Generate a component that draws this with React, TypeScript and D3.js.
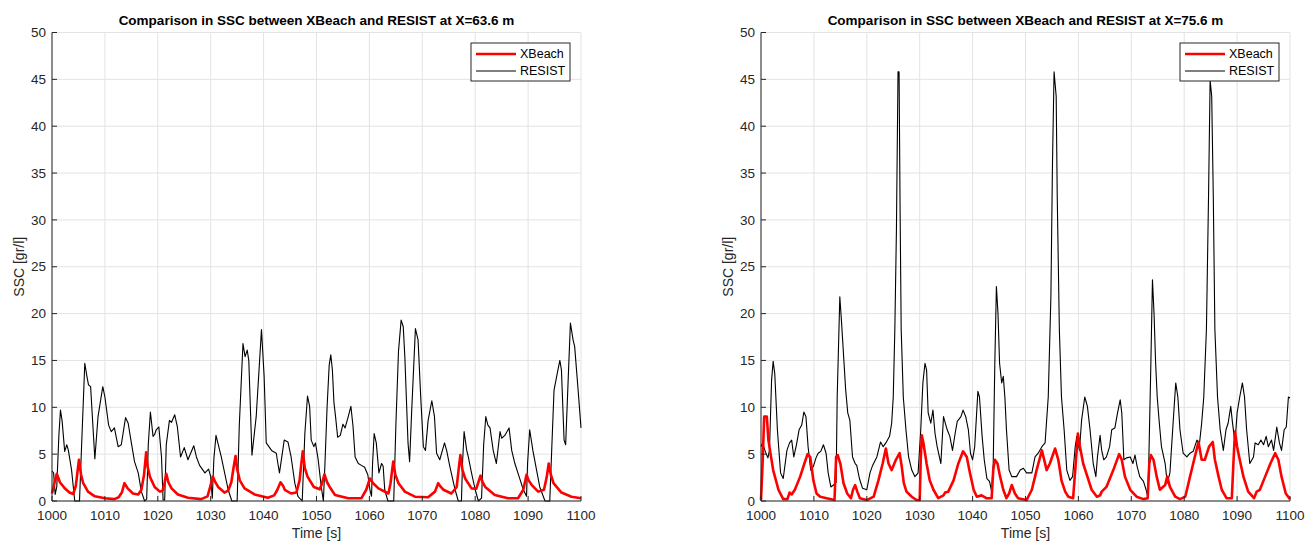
import React from "react";
import * as d3 from "d3";

// ---------- data (time [s], SSC [gr/l]) ----------
const xTicks = [1000, 1010, 1020, 1030, 1040, 1050, 1060, 1070, 1080, 1090, 1100];
const yTicks = [0, 5, 10, 15, 20, 25, 30, 35, 40, 45, 50];
const seriesNames = ["XBeach", "RESIST"];
const titles = [
  "Comparison in SSC between XBeach and RESIST at X=63.6 m",
  "Comparison in SSC between XBeach and RESIST at X=75.6 m",
];

const resist63: [number, number][] = [
  [1000,3.2],[1000.3,3.0],[1000.6,0.7],[1000.9,1.5],[1001.3,7.0],[1001.6,9.7],[1001.9,8.6],[1002.4,5.3],[1002.8,6.0],[1003.1,5.4],[1003.7,3.3],[1004.3,0],[1005.2,0],[1005.6,6.0],[1006.2,14.7],[1006.6,13.3],[1006.9,12.4],[1007.3,12.2],[1008.1,4.5],[1008.7,9.0],[1009.6,12.2],[1010.0,11.1],[1010.7,8.1],[1011.2,7.4],[1011.8,7.8],[1012.5,5.8],[1013.1,6.0],[1013.9,8.9],[1014.4,8.3],[1015.0,6.2],[1015.6,4.2],[1016.3,3.0],[1016.9,1.0],[1017.5,0],[1017.9,0.2],[1018.2,6.0],[1018.6,9.5],[1019.1,6.9],[1019.4,7.1],[1019.7,7.6],[1020.2,7.9],[1020.7,4.7],[1021.0,0.1],[1021.3,0.1],[1021.6,6.0],[1022.2,8.6],[1022.6,8.4],[1023.2,9.2],[1023.7,7.9],[1024.3,4.7],[1025.0,5.7],[1025.7,4.4],[1026.8,5.9],[1027.3,4.7],[1027.9,3.8],[1028.9,3.0],[1029.6,3.4],[1030.0,2.6],[1030.3,0.3],[1030.6,4.5],[1031.0,7.0],[1032.0,4.7],[1033.3,1.2],[1034.0,0],[1035.0,0],[1035.4,8],[1036.1,16.8],[1036.5,15.4],[1036.9,16.1],[1037.2,15.0],[1037.8,4.9],[1038.6,9.0],[1039.6,18.3],[1040.1,13.3],[1040.5,6.2],[1041.5,5.4],[1042.4,5.1],[1042.7,4.0],[1043.0,3.0],[1043.9,6.5],[1044.6,6.3],[1045.2,4.7],[1045.9,1.9],[1046.5,0.5],[1047.3,0],[1047.8,7.2],[1048.3,11.2],[1048.7,10.1],[1049.0,6.5],[1049.5,5.8],[1049.8,6.2],[1050.3,4.5],[1050.9,1.5],[1051.3,0],[1051.6,4],[1052.0,10],[1052.4,14.5],[1052.7,15.6],[1053.0,14.0],[1053.3,10.5],[1053.6,9.0],[1054.0,6.8],[1054.5,7.0],[1055.0,8.2],[1055.4,7.8],[1056.0,9.0],[1056.5,10.1],[1056.9,8.0],[1057.3,4.7],[1057.9,4.0],[1058.5,3.8],[1059.1,3.6],[1059.7,2.8],[1060.1,1.2],[1060.4,0.5],[1060.6,4.0],[1060.9,7.2],[1061.3,6.2],[1061.8,3.0],[1062.3,4.0],[1062.6,3.7],[1062.9,1.2],[1063.5,0],[1064.6,0],[1065.0,8],[1065.5,16],[1066.0,19.3],[1066.4,18.6],[1066.7,15.4],[1067.3,6.2],[1067.6,4.2],[1068.0,9.7],[1068.7,18.4],[1069.2,17.2],[1069.7,11.1],[1070.2,5.8],[1070.6,5.4],[1071.1,8.6],[1071.8,10.7],[1072.3,9.0],[1072.7,5.1],[1073.3,4.4],[1074.2,6.2],[1074.6,5.4],[1075.2,3.7],[1076.2,1.2],[1076.8,0],[1077.4,0],[1077.6,4],[1077.9,7.4],[1078.4,5.4],[1078.7,4.7],[1079.3,3.0],[1080.0,1.2],[1080.6,0],[1081.2,0.3],[1081.6,6],[1082.0,9.0],[1082.4,8.1],[1082.8,7.8],[1083.4,5.4],[1084.0,4.0],[1084.7,7.4],[1085.0,6.7],[1085.6,7.0],[1086.4,7.8],[1086.9,5.4],[1087.5,4.0],[1088.3,2.6],[1089.1,1.2],[1089.7,0.5],[1089.9,4],[1090.3,7.6],[1090.9,5.4],[1091.6,3.3],[1092.2,1.5],[1093.2,0],[1094.1,0],[1094.5,6],[1094.9,11.8],[1095.4,13.3],[1096.0,15.0],[1096.3,14.0],[1096.8,6.5],[1097.1,6.0],[1097.6,13.3],[1098.0,19.0],[1098.5,17.2],[1098.8,16.5],[1099.5,11.5],[1100,7.8],
];

const xbeach63: [number, number][] = [
  [1000,0.8],[1000.5,2.0],[1000.9,2.9],[1001.5,2.0],[1002.5,1.3],[1003.3,0.9],[1004.0,0.75],[1004.5,1.6],[1004.9,3.5],[1005.1,4.4],[1005.5,2.8],[1005.9,1.9],[1006.8,1.0],[1008.1,0.5],[1010.0,0.3],[1011.8,0.2],[1012.6,0.4],[1013.2,0.9],[1013.7,1.9],[1014.3,1.35],[1015.3,0.8],[1016.3,0.7],[1016.9,1.2],[1017.4,2.8],[1017.8,5.2],[1018.1,3.6],[1018.5,2.6],[1019.4,1.5],[1020.4,1.0],[1020.9,1.1],[1021.3,2.0],[1021.6,2.9],[1022.0,2.0],[1022.6,1.35],[1023.8,0.7],[1025.7,0.35],[1028.2,0.2],[1029.4,0.5],[1029.9,1.5],[1030.4,2.6],[1030.8,2.1],[1031.4,1.5],[1032.6,0.9],[1033.3,1.1],[1033.9,2.0],[1034.3,3.5],[1034.7,4.8],[1035.0,3.4],[1035.5,2.2],[1036.4,1.35],[1038.3,0.7],[1040.8,0.35],[1042.0,0.6],[1042.6,1.2],[1043.2,2.0],[1043.7,1.6],[1044.0,1.2],[1045.2,0.8],[1046.2,0.9],[1046.8,2.2],[1047.1,3.8],[1047.4,5.3],[1047.8,3.5],[1048.3,2.6],[1049.5,1.5],[1050.6,1.25],[1051.0,1.8],[1051.5,2.85],[1052.0,2.0],[1052.5,1.5],[1053.5,0.65],[1056.0,0.3],[1058.5,0.3],[1059.4,1.2],[1060.1,2.4],[1060.7,1.9],[1061.7,1.35],[1063.6,0.8],[1064.0,1.9],[1064.5,4.2],[1064.9,2.8],[1065.5,1.9],[1066.7,1.0],[1068.6,0.46],[1071.1,0.4],[1072.4,1.0],[1073.0,1.9],[1073.5,1.5],[1074.0,1.2],[1075.5,0.8],[1076.5,1.5],[1076.9,3.5],[1077.2,4.9],[1077.6,3.3],[1078.1,2.4],[1079.3,1.35],[1080.2,1.3],[1080.6,2.0],[1081.0,2.7],[1081.4,2.0],[1081.9,1.5],[1083.7,0.65],[1086.2,0.3],[1088.1,0.3],[1089.1,1.2],[1089.7,2.8],[1090.1,2.2],[1090.7,1.7],[1091.9,1.0],[1093.0,1.2],[1093.5,2.5],[1093.9,4.0],[1094.3,2.8],[1094.8,1.9],[1096.3,0.9],[1098.2,0.46],[1100,0.3],
];

const resist75: [number, number][] = [
  [1000,5.8],[1000.3,6.2],[1000.8,5.3],[1001.3,4.6],[1001.6,5.4],[1002.0,12.9],[1002.3,14.9],[1002.6,13.6],[1003.1,7.6],[1003.7,3.0],[1004.2,2.4],[1004.9,5.4],[1005.4,6.2],[1005.8,6.5],[1006.2,4.7],[1006.7,6.0],[1007.2,7.6],[1007.7,8.1],[1008.1,9.5],[1008.5,9.0],[1008.9,5.8],[1009.4,3.3],[1009.9,3.7],[1010.4,4.6],[1010.8,5.1],[1011.3,5.3],[1011.8,6.0],[1012.3,5.1],[1012.7,3.0],[1013.2,1.5],[1013.7,1.7],[1014.2,2.0],[1014.4,11.0],[1014.9,21.8],[1015.2,19.3],[1015.7,14.7],[1016.0,11.9],[1016.4,9.4],[1016.8,8.6],[1017.3,4.7],[1017.8,4.0],[1018.1,3.8],[1018.6,2.4],[1019.2,1.35],[1020.0,1.2],[1020.6,3.0],[1021.1,3.8],[1021.9,4.7],[1022.6,6.3],[1023.1,5.8],[1023.6,6.2],[1024.3,6.9],[1024.7,8.3],[1025.0,11.1],[1025.3,18.3],[1025.6,28.9],[1025.9,45.8],[1026.1,45.8],[1026.3,30.7],[1026.5,18.3],[1026.9,11.1],[1027.4,7.6],[1027.9,4.7],[1028.5,3.3],[1029.1,2.6],[1029.7,3.0],[1030.2,7.6],[1030.6,12.6],[1031.0,14.7],[1031.3,14.0],[1031.6,9.4],[1032.1,8.3],[1032.5,9.7],[1032.9,7.2],[1033.3,5.8],[1034.0,4.0],[1034.5,9.0],[1034.8,8.4],[1035.2,7.6],[1035.7,6.9],[1036.2,5.4],[1036.7,7.2],[1037.1,8.5],[1037.8,9.0],[1038.2,9.7],[1038.7,9.0],[1039.2,7.6],[1039.6,5.1],[1040.0,4.4],[1040.4,5.8],[1041.0,11.7],[1041.3,11.1],[1041.8,6.9],[1042.2,4.4],[1042.7,2.4],[1043.2,2.1],[1043.6,1.0],[1043.9,4.0],[1044.2,14.7],[1044.5,22.9],[1044.8,20.0],[1045.1,14.7],[1045.5,12.6],[1045.8,13.3],[1046.1,11.1],[1046.4,7.6],[1046.9,3.3],[1047.4,2.6],[1048.3,2.6],[1049.0,3.3],[1049.6,3.5],[1050.2,3.0],[1051.2,3.0],[1051.8,4.7],[1052.4,5.1],[1053.1,5.8],[1053.7,6.2],[1054.3,11.1],[1054.8,21.8],[1055.1,36],[1055.4,45.8],[1055.8,43.2],[1056.0,32.5],[1056.4,18.3],[1056.8,11.1],[1057.3,7.6],[1057.8,3.3],[1058.4,2.2],[1058.9,2.6],[1059.4,5.8],[1059.7,6.9],[1060.2,5.4],[1060.6,8.6],[1061.2,11.1],[1061.7,10.1],[1062.2,7.6],[1062.8,4.0],[1063.3,2.6],[1063.6,4.7],[1064.1,7.0],[1064.4,5.4],[1064.8,4.4],[1065.3,4.7],[1065.9,5.8],[1066.3,7.6],[1066.9,7.8],[1067.4,9.4],[1067.9,10.8],[1068.2,9.4],[1068.6,4.4],[1069.1,4.6],[1069.8,4.7],[1070.3,4.0],[1070.7,4.9],[1071.1,3.7],[1071.6,2.6],[1072.3,2.1],[1072.8,1.2],[1073.1,0.5],[1073.3,4.0],[1073.7,14.7],[1074.0,23.6],[1074.3,20.0],[1074.6,14.7],[1074.9,11.1],[1075.3,8.3],[1075.7,5.8],[1076.4,4.0],[1076.8,1.9],[1077.3,3.0],[1077.9,8.3],[1078.4,12.6],[1078.8,11.1],[1079.2,7.6],[1079.8,5.1],[1080.5,4.7],[1081.1,5.1],[1081.7,5.3],[1082.4,6.5],[1082.9,6.2],[1083.3,8.3],[1083.7,11.1],[1084.2,18.3],[1084.6,32.5],[1084.9,44.9],[1085.2,43.2],[1085.5,32.5],[1085.8,18.3],[1086.3,11.1],[1086.8,7.6],[1087.4,5.4],[1087.9,7.6],[1088.3,8.3],[1088.8,10.1],[1089.1,8.5],[1089.6,6.2],[1090.0,9.4],[1090.5,11.1],[1091.0,12.6],[1091.4,11.1],[1091.8,7.6],[1092.4,4.0],[1093.1,4.7],[1093.4,6.2],[1094.0,6.0],[1094.5,6.5],[1095.0,6.0],[1095.5,6.9],[1095.9,5.8],[1096.5,6.5],[1096.9,5.4],[1097.5,7.9],[1098.0,6.2],[1098.4,5.4],[1098.9,7.6],[1099.3,7.9],[1099.7,11.1],[1100,11.0],
];

const xbeach75: [number, number][] = [
  [1000,0.1],[1000.3,4.0],[1000.6,9.0],[1001.1,9.0],[1001.4,6.5],[1001.7,5.4],[1002.3,3.3],[1003.3,1.2],[1004.2,0.2],[1005.0,0.2],[1005.4,0.9],[1005.8,0.7],[1006.4,1.2],[1007.4,2.6],[1008.2,4.0],[1008.8,5.0],[1009.3,4.7],[1009.9,2.2],[1010.5,0.8],[1011.2,0.46],[1012.4,0.3],[1013.9,0.1],[1014.2,4.7],[1014.5,4.9],[1015.0,4.0],[1015.6,1.9],[1016.3,0.8],[1017.0,0.3],[1017.4,1.2],[1017.8,1.7],[1018.2,1.0],[1018.7,0.3],[1020.0,0.1],[1021.3,0.46],[1022.2,2.2],[1023.0,4.0],[1023.6,5.6],[1024.1,4.0],[1024.7,3.3],[1025.5,4.4],[1026.2,5.1],[1026.6,3.7],[1027.0,1.9],[1027.5,1.0],[1028.5,0.46],[1029.4,0.1],[1030.0,0.1],[1030.2,4.5],[1030.4,7.0],[1030.7,6.2],[1031.3,4.0],[1031.9,2.2],[1032.6,1.2],[1033.5,0.3],[1034.5,0.6],[1034.8,0.9],[1035.4,1.0],[1036.4,2.2],[1037.3,4.0],[1038.2,5.3],[1038.9,4.7],[1039.5,3.0],[1040.2,1.2],[1040.8,0.46],[1041.7,0.6],[1042.6,0.3],[1043.6,0.3],[1043.9,3.3],[1044.2,4.4],[1044.7,4.0],[1045.2,2.6],[1045.8,1.2],[1046.4,0.3],[1046.9,0.8],[1047.4,1.7],[1048.0,0.8],[1048.6,0.3],[1050.2,0.1],[1051.2,1.2],[1052.1,3.3],[1053.1,5.4],[1053.7,4.0],[1054.0,3.3],[1054.6,4.0],[1055.6,5.6],[1056.2,4.4],[1056.8,2.2],[1057.5,1.0],[1058.1,0.46],[1059.0,0.3],[1059.4,3.3],[1059.9,7.2],[1060.3,5.8],[1060.9,4.0],[1061.7,2.6],[1062.5,1.2],[1063.5,0.46],[1064.1,0.6],[1064.4,1.0],[1065.3,1.5],[1066.6,3.3],[1067.7,5.0],[1068.2,4.4],[1068.8,2.6],[1069.8,1.2],[1071.0,0.46],[1072.3,0.2],[1073.1,0.3],[1073.4,4.0],[1073.7,4.9],[1074.2,4.4],[1074.8,2.6],[1075.4,1.2],[1076.4,1.7],[1076.8,2.6],[1077.3,1.5],[1078.3,0.46],[1079.2,0.2],[1080.2,0.46],[1081.1,2.6],[1082.0,4.7],[1082.7,6.3],[1083.3,4.4],[1083.9,4.4],[1084.7,5.8],[1085.4,6.3],[1085.8,4.4],[1086.5,2.6],[1087.1,1.2],[1088.0,0.3],[1089.0,0.3],[1089.3,4.0],[1089.6,7.4],[1090.0,5.8],[1090.5,4.4],[1091.2,2.6],[1092.1,1.0],[1093.2,0.3],[1093.7,1.0],[1094.3,1.2],[1095.3,2.6],[1096.3,4.0],[1097.2,5.1],[1097.8,4.4],[1098.4,2.6],[1099.2,0.8],[1100,0.2],
];

// ---------- layout ----------
const W = 1316;
const H = 543;
const TOP = 32.5;
const BOTTOM = 501;
const FONT = "'Liberation Sans', Arial, Helvetica, sans-serif";
const AXIS = "#262626";
const GRID = "#e3e3e3";
const RED = "#ff0000";

type PanelProps = {
  left: number;
  right: number;
  title: string;
  xbeach: [number, number][];
  resist: [number, number][];
};

function Panel({ left, right, title, xbeach, resist }: PanelProps) {
  const x = d3.scaleLinear().domain([1000, 1100]).range([left, right]);
  const y = d3.scaleLinear().domain([0, 50]).range([BOTTOM, TOP]);
  const line = d3
    .line<[number, number]>()
    .x((d) => x(d[0]))
    .y((d) => y(d[1]));
  const cx = (left + right) / 2;
  const legR = right - 11;
  const legL = legR - 99;
  const legT = 43;
  return (
    <g>
      {/* grid */}
      {xTicks.map((t) => (
        <line key={"gx" + t} x1={x(t)} x2={x(t)} y1={TOP} y2={BOTTOM} stroke={GRID} strokeWidth={1} />
      ))}
      {yTicks.map((t) => (
        <line key={"gy" + t} x1={left} x2={right} y1={y(t)} y2={y(t)} stroke={GRID} strokeWidth={1} />
      ))}
      {/* data */}
      <path d={line(resist) || ""} fill="none" stroke="#000" strokeWidth={1.1} strokeLinejoin="round" />
      <path d={line(xbeach) || ""} fill="none" stroke={RED} strokeWidth={2.6} strokeLinejoin="round" />
      {/* axes */}
      <line x1={left} x2={left} y1={TOP} y2={BOTTOM} stroke={AXIS} strokeWidth={1} />
      <line x1={left} x2={right} y1={BOTTOM} y2={BOTTOM} stroke={AXIS} strokeWidth={1} />
      {yTicks.map((t) => (
        <g key={"ty" + t}>
          <line x1={left} x2={left + 5} y1={y(t)} y2={y(t)} stroke={AXIS} strokeWidth={1} />
          <text x={left - 6} y={y(t)} dy="0.35em" textAnchor="end" fontSize={13.5} fill={AXIS} fontFamily={FONT}>
            {t}
          </text>
        </g>
      ))}
      {xTicks.map((t) => (
        <g key={"tx" + t}>
          <line x1={x(t)} x2={x(t)} y1={BOTTOM} y2={BOTTOM - 5} stroke={AXIS} strokeWidth={1} />
          <text x={x(t)} y={BOTTOM + 19} textAnchor="middle" fontSize={13.5} fill={AXIS} fontFamily={FONT}>
            {t}
          </text>
        </g>
      ))}
      {/* labels */}
      <text x={cx} y={538} textAnchor="middle" fontSize={14} fill={AXIS} fontFamily={FONT}>
        Time [s]
      </text>
      <text
        transform={`translate(${left - 28},${(TOP + BOTTOM) / 2}) rotate(-90)`}
        textAnchor="middle"
        fontSize={14}
        fill={AXIS}
        fontFamily={FONT}
      >
        SSC [gr/l]
      </text>
      <text x={cx} y={25} textAnchor="middle" fontSize={13.5} fontWeight="bold" fill="#000" fontFamily={FONT}>
        {title}
      </text>
      {/* legend */}
      <rect x={legL} y={legT} width={99} height={38} fill="#fff" stroke={AXIS} strokeWidth={1} />
      <line x1={legL + 5} x2={legL + 45} y1={legT + 11} y2={legT + 11} stroke={RED} strokeWidth={2.6} />
      <text x={legL + 49} y={legT + 11} dy="0.35em" fontSize={12.5} fill="#000" fontFamily={FONT}>
        {seriesNames[0]}
      </text>
      <line x1={legL + 5} x2={legL + 45} y1={legT + 28} y2={legT + 28} stroke="#000" strokeWidth={1} />
      <text x={legL + 49} y={legT + 28} dy="0.35em" fontSize={12.5} fill="#000" fontFamily={FONT}>
        {seriesNames[1]}
      </text>
    </g>
  );
}

export default function App() {
  return (
    <svg
      width={W}
      height={H}
      viewBox={`0 0 ${W} ${H}`}
      style={{ position: "absolute", left: 0, top: 0, background: "#fff" }}
    >
      <rect x={0} y={0} width={W} height={H} fill="#fff" />
      <Panel left={52} right={581} title={titles[0]} xbeach={xbeach63} resist={resist63} />
      <Panel left={761} right={1290} title={titles[1]} xbeach={xbeach75} resist={resist75} />
    </svg>
  );
}
